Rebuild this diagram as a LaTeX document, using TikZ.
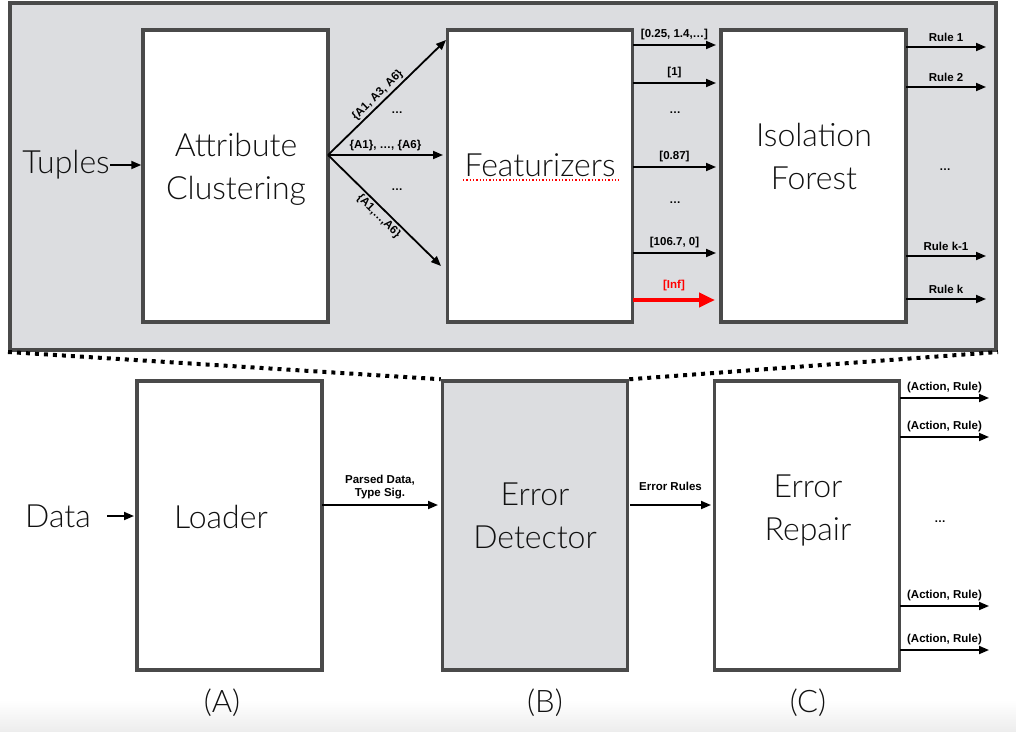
\documentclass[tikz,border=0pt]{standalone}
\usepackage{fontspec}
\setmainfont{Liberation Sans}
\newfontfamily\lightfont{Lato Light}
\usetikzlibrary{arrows.meta}
\definecolor{panelgray}{HTML}{DCDDE0}
\definecolor{edgegray}{HTML}{4A4A4A}
\definecolor{txtgray}{HTML}{111111}
\tikzset{
 big/.style={font=\lightfont\fontsize{32}{43}\selectfont, align=center, text=txtgray},
 box/.style={draw=edgegray, line width=3.5pt, fill=white, minimum width=185pt, minimum height=292pt, inner sep=0pt},
 lab/.style={font=\bfseries\fontsize{11.5}{13.5}\selectfont, align=center, inner sep=1pt},
 arr/.style={-{Triangle[length=10pt,width=8pt]}, line width=1.8pt},
 redarr/.style={-{Triangle[length=16pt,width=14pt]}, line width=4pt, red},
 zoomline/.style={line width=4pt, dash pattern=on 4pt off 5pt, black},
}
\begin{document}
\begin{tikzpicture}[x=1pt,y=-1pt]
\useasboundingbox (0,0) rectangle (1016,731);
\shade[top color=white, bottom color=black!7] (0,700) rectangle (1016,731);
% top panel
\node[draw=edgegray, line width=4pt, fill=panelgray, minimum width=986pt, minimum height=347pt, inner sep=0pt] (panel) at (503,176.5) {};
% top boxes
\node[box] (ac) at (235.5,176) {};
\node[big] (actext) at (236,169) {Attribute\\Clustering};
\node[box] (fz) at (540,176) {};
\node[big] (fztext) at (540,165) {Featurizers};
\coordinate (ul1) at (463,180);
\coordinate (ul2) at (619,180);
\draw[red, line width=1.3pt, dotted] (ul1) -- (ul2);
\node[box] (if) at (813.5,176) {};
\node[big] (iftext) at (814,156) {Isolation\\Forest};
% tuples
\node[big, anchor=east, inner sep=0pt] (tuples) at (110,165) {Tuples};
\draw[arr] (tuples.east) -- (tuples.east -| ac.west);
% fan
\coordinate (fan) at (328,155);
\coordinate (f1) at (446,40);
\coordinate (f2) at (443,155);
\coordinate (f3) at (441,266);
\draw[arr] (fan) -- node[lab, sloped, above=1pt, pos=0.47] {\{A1, A3, A6\}} (f1);
\draw[arr] (fan) -- node[lab, above=2pt] {\{A1\}, …, \{A6\}} (f2);
\draw[arr] (fan) -- node[lab, sloped, below=1pt, pos=0.5] {\{A1,…,A6\}} (f3);
\node[lab] (fd1) at (397,113) {…};
\node[lab] (fd2) at (397,190) {…};
% featurizer outputs
\foreach \y/\t/\n in {45/{[0.25, 1.4,…]}/a, 83/{[1]}/b, 167/{[0.87]}/c, 253/{[106.7, 0]}/d}{
  \coordinate (fs\n) at (633,\y);
  \coordinate (fe\n) at (716,\y);
  \draw[arr] (fs\n) -- node[lab, above=3pt] {\t} (fe\n);
}
\node[lab] (fdots1) at (675,113) {…};
\node[lab] (fdots2) at (675,203) {…};
\coordinate (fsr) at (633,300);
\coordinate (fer) at (715,300);
\draw[redarr] (fsr) -- node[lab, above=6pt, text=red] {[Inf]} (fer);
% isolation forest outputs
\foreach \y/\t/\n in {47/{Rule 1}/a, 87/{Rule 2}/b, 256/{Rule k-1}/c, 299/{Rule k}/d}{
  \coordinate (rs\n) at (906,\y);
  \coordinate (re\n) at (986,\y);
  \draw[arr] (rs\n) -- node[lab, above=3pt] {\t} (re\n);
}
\node[lab] (rdots) at (945,170) {…};
% bottom boxes
\node[box, minimum height=289pt] (ld) at (229.5,525.5) {};
\node[big] (ldtext) at (221,516.5) {Loader};
\node[box, minimum height=289pt, fill=panelgray] (ed) at (535,525.5) {};
\node[big] (edtext) at (535,515.5) {Error\\Detector};
\node[box, minimum height=289pt] (er) at (807,525.5) {};
\node[big] (ertext) at (808,510.5) {Error\\Repair};
% zoom lines
\draw[zoomline] (panel.south west) -- (ed.north west);
\draw[zoomline] (ed.north east) -- (panel.south east);
% data
\node[big, anchor=east, inner sep=0pt] (data) at (91,516) {Data};
\coordinate (din) at (134,516);
\coordinate (dout) at (107,516);
\draw[arr] (dout) -- (din);
\coordinate (l1) at (322,505);
\coordinate (l2) at (438,505);
\draw[arr] (l1) -- node[lab, above=4pt] {Parsed Data,\\Type Sig.} (l2);
\coordinate (e1) at (630,505);
\coordinate (e2) at (711,505);
\draw[arr] (e1) -- node[lab, above=12pt] {Error Rules} (e2);
% repair outputs
\foreach \y/\n in {398/a, 437/b, 606/c, 650/d}{
  \coordinate (as\n) at (900,\y);
  \coordinate (ae\n) at (989,\y);
  \draw[arr] (as\n) -- node[lab, above=3pt] {(Action, Rule)} (ae\n);
}
\node[lab] (adots) at (940,522) {…};
% labels
\node[big, font=\lightfont\fontsize{31}{36}\selectfont] (la) at (222,703) {(A)};
\node[big, font=\lightfont\fontsize{31}{36}\selectfont] (lb) at (545,703) {(B)};
\node[big, font=\lightfont\fontsize{31}{36}\selectfont] (lc) at (808,703) {(C)};
\end{tikzpicture}
\end{document}
